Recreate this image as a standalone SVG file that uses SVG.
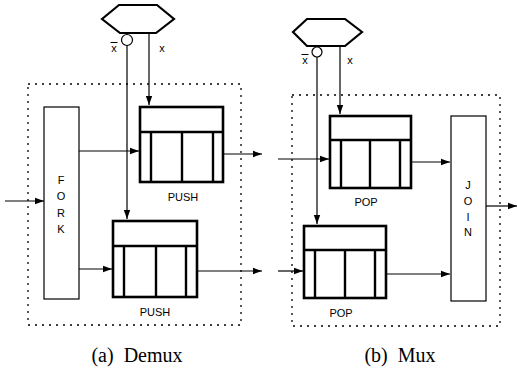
<svg xmlns="http://www.w3.org/2000/svg" width="517" height="371" viewBox="0 0 517 371">
<defs>
<marker id="ah" markerWidth="10" markerHeight="8" refX="9" refY="4" orient="auto" markerUnits="userSpaceOnUse">
<path d="M0,0.8 L9,4 L0,7.2 Z" fill="#000"/>
</marker>
<style>
.dot{fill:none;stroke:#000;stroke-width:1.3;stroke-dasharray:2 5}
.thin{fill:#fff;stroke:#000;stroke-width:1.2}
.hex{fill:#fff;stroke:#000;stroke-width:2.2}
.q{fill:#fff;stroke:#000;stroke-width:2.6}
.ql{stroke:#000;stroke-width:2.4}
.w{fill:none;stroke:#000;stroke-width:1.2}
.a{fill:none;stroke:#000;stroke-width:1.2;marker-end:url(#ah)}
.t{font-family:"Liberation Sans",Arial,sans-serif;font-size:11px;fill:#000;text-anchor:middle}
.cap{font-family:"Liberation Serif","Times New Roman",serif;font-size:20px;fill:#000;text-anchor:middle}
</style>
</defs>
<rect width="517" height="371" fill="#fff"/>

<g id="demux-frame"><rect class="dot" x="28" y="84" width="213" height="241"/></g>
<g id="mux-frame"><rect class="dot" x="292" y="95" width="208" height="231"/></g>

<g id="connectors">
<!-- demux -->
<line class="a" x1="149" y1="33" x2="149" y2="105"/>
<line class="a" x1="127" y1="45" x2="127" y2="219"/>
<line class="a" x1="5" y1="201" x2="44" y2="201"/>
<line class="a" x1="79" y1="151" x2="139" y2="151"/>
<line class="a" x1="79" y1="269" x2="112" y2="269"/>
<line class="a" x1="223" y1="154" x2="262" y2="154"/>
<line class="a" x1="197" y1="271" x2="262" y2="271"/>
<!-- mux -->
<line class="a" x1="340" y1="46" x2="340" y2="114"/>
<line class="a" x1="317" y1="57" x2="317" y2="224"/>
<line class="a" x1="278" y1="159" x2="329" y2="159"/>
<line class="a" x1="278" y1="271" x2="303" y2="271"/>
<line class="a" x1="411" y1="162" x2="450" y2="162"/>
<line class="a" x1="386" y1="274" x2="450" y2="274"/>
<line class="a" x1="486" y1="206" x2="517" y2="206"/>
</g>

<g id="demux-cond">
<polygon class="hex" points="102,19 119,5 157,5 174,19 156,33 120,33"/>
<circle class="thin" cx="127" cy="40" r="5.5"/>
<text class="t" x="114" y="52">x</text>
<line x1="110.5" y1="42.5" x2="117.5" y2="42.5" stroke="#000" stroke-width="1"/>
<text class="t" x="162" y="52">x</text>
</g>

<g id="fork">
<rect class="thin" x="44" y="107" width="35" height="192"/>
<text class="t" x="61" y="184">F</text>
<text class="t" x="61" y="200">O</text>
<text class="t" x="61" y="217">R</text>
<text class="t" x="61" y="233">K</text>
</g>

<g id="push1">
<rect class="q" x="140" y="107" width="83" height="75"/>
<line class="ql" x1="140" y1="132" x2="223" y2="132"/>
<line class="ql" x1="151" y1="132" x2="151" y2="182"/>
<line class="ql" x1="182" y1="132" x2="182" y2="182"/>
<line class="ql" x1="213" y1="132" x2="213" y2="182"/>
<text class="t" x="183" y="201">PUSH</text>
</g>

<g id="push2">
<rect class="q" x="113" y="221" width="84" height="76"/>
<line class="ql" x1="113" y1="246" x2="197" y2="246"/>
<line class="ql" x1="124" y1="246" x2="124" y2="297"/>
<line class="ql" x1="156" y1="246" x2="156" y2="297"/>
<line class="ql" x1="186" y1="246" x2="186" y2="297"/>
<text class="t" x="155" y="316">PUSH</text>
</g>

<g id="mux-cond">
<polygon class="hex" points="293,32 307,19 345,19 362,32 345,46 307,46"/>
<circle class="thin" cx="317" cy="52" r="5"/>
<text class="t" x="305" y="64">x</text>
<line x1="301.5" y1="54.5" x2="308.5" y2="54.5" stroke="#000" stroke-width="1"/>
<text class="t" x="350" y="64">x</text>
</g>

<g id="pop1">
<rect class="q" x="330" y="116" width="81" height="72"/>
<line class="ql" x1="330" y1="140" x2="411" y2="140"/>
<line class="ql" x1="341" y1="140" x2="341" y2="188"/>
<line class="ql" x1="370" y1="140" x2="370" y2="188"/>
<line class="ql" x1="400" y1="140" x2="400" y2="188"/>
<text class="t" x="366" y="206">POP</text>
</g>

<g id="pop2">
<rect class="q" x="304" y="226" width="82" height="72"/>
<line class="ql" x1="304" y1="250" x2="386" y2="250"/>
<line class="ql" x1="315" y1="250" x2="315" y2="298"/>
<line class="ql" x1="345" y1="250" x2="345" y2="298"/>
<line class="ql" x1="375" y1="250" x2="375" y2="298"/>
<text class="t" x="341" y="317">POP</text>
</g>

<g id="join">
<rect class="thin" x="451" y="116" width="35" height="185"/>
<text class="t" x="468" y="189">J</text>
<text class="t" x="468" y="205">O</text>
<text class="t" x="468" y="221">I</text>
<text class="t" x="468" y="236">N</text>
</g>

<g id="captions">
<text class="cap" x="137" y="362">(a)&#160; Demux</text>
<text class="cap" x="400" y="362">(b)&#160; Mux</text>
</g>
</svg>
